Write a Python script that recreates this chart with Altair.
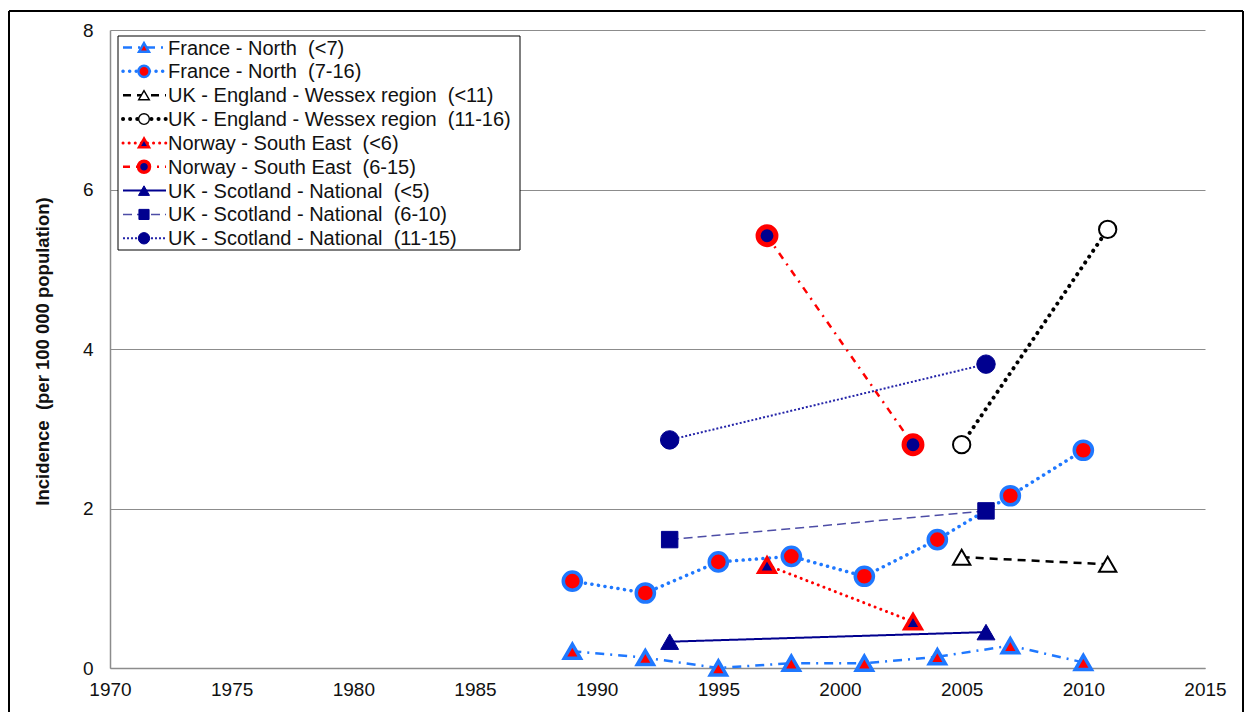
import altair as alt
import pandas as pd

# ---------------- data ----------------
NB = "\u00a0"  # keeps the double spaces of the original labels visible
series_names = [
    "France - North " + NB + "(<7)",
    "France - North " + NB + "(7-16)",
    "UK - England - Wessex region " + NB + "(<11)",
    "UK - England - Wessex region " + NB + "(11-16)",
    "Norway - South East " + NB + "(<6)",
    "Norway - South East " + NB + "(6-15)",
    "UK - Scotland - National " + NB + "(<5)",
    "UK - Scotland - National " + NB + "(6-10)",
    "UK - Scotland - National " + NB + "(11-15)",
]

years_france = [1989, 1992, 1995, 1998, 2001, 2004, 2007, 2010]
france_lt7 = [0.21, 0.13, 0.00, 0.06, 0.06, 0.14, 0.28, 0.07]
france_7_16 = [1.09, 0.94, 1.33, 1.40, 1.15, 1.61, 2.16, 2.73]

years_wessex = [2005, 2011]
wessex_lt11 = [1.39, 1.30]
wessex_11_16 = [2.80, 5.50]

years_norway = [1997, 2003]
norway_lt6 = [1.29, 0.58]
norway_6_15 = [5.42, 2.80]

years_scotland = [1993, 2006]
scotland_lt5 = [0.33, 0.45]
scotland_6_10 = [1.61, 1.97]
scotland_11_15 = [2.86, 3.81]

x_ticks = [1970, 1975, 1980, 1985, 1990, 1995, 2000, 2005, 2010, 2015]
y_ticks = [0, 2, 4, 6, 8]

series_data = [
    (years_france, france_lt7),
    (years_france, france_7_16),
    (years_wessex, wessex_lt11),
    (years_wessex, wessex_11_16),
    (years_norway, norway_lt6),
    (years_norway, norway_6_15),
    (years_scotland, scotland_lt5),
    (years_scotland, scotland_6_10),
    (years_scotland, scotland_11_15),
]

rows = []
for name, (yrs, vals) in zip(series_names, series_data):
    for yr, v in zip(yrs, vals):
        rows.append({"series": name, "year": yr, "value": v})
df = pd.DataFrame(rows)

# ---------------- styles ----------------
BLUE = "#1f78ff"
RED = "#ff0000"
NAVY = "#00008f"

styles = [
    dict(line=BLUE, dash=[9, 6, 2, 6], lw=2.5, cap="butt",
         shape="triangle-up", fill=RED, stroke=BLUE, sw=3.5, size=260),
    dict(line=BLUE, dash=[0.1, 6.5], lw=3.5, cap="round",
         shape="circle", fill=RED, stroke=BLUE, sw=3.5, size=330),
    dict(line="#000000", dash=[8, 6], lw=2.5, cap="butt",
         shape="triangle-up", fill="#ffffff", stroke="#000000", sw=2, size=300),
    dict(line="#000000", dash=[0.1, 7], lw=4, cap="round",
         shape="circle", fill="#ffffff", stroke="#000000", sw=2, size=300),
    dict(line=RED, dash=[0.1, 6], lw=3, cap="round",
         shape="triangle-up", fill=NAVY, stroke=RED, sw=3.5, size=270),
    dict(line=RED, dash=[7, 6, 2, 6], lw=2.5, cap="butt",
         shape="circle", fill=NAVY, stroke=RED, sw=5, size=320),
    dict(line=NAVY, dash=[1, 0], lw=2, cap="butt",
         shape="triangle-up", fill=NAVY, stroke=NAVY, sw=1, size=320),
    dict(line="#4d4da6", dash=[9, 5], lw=1.5, cap="butt",
         shape="square", fill=NAVY, stroke=NAVY, sw=1, size=270),
    dict(line="#2424a8", dash=[2, 2], lw=2, cap="butt",
         shape="circle", fill=NAVY, stroke=NAVY, sw=1, size=340),
]

FONT = "Liberation Sans"
TXT = "#111111"

x_enc = alt.X(
    "year:Q",
    scale=alt.Scale(domain=[1970, 2015], nice=False, zero=False),
    axis=alt.Axis(values=x_ticks, format="d", grid=False, ticks=False,
                  labelPadding=12, labelFlush=False, labelOverlap=False,
                  labelBound=False, title=None),
)
y_enc = alt.Y(
    "value:Q",
    scale=alt.Scale(domain=[0, 8], nice=False, zero=True),
    axis=alt.Axis(values=y_ticks, grid=True, ticks=False, labelPadding=17,
                  title="Incidence " + NB + "(per 100 000 population)",
                  titleX=-68, titleY=321, titleAngle=-90,
                  titleAlign="center", titleBaseline="middle"),
)

layers = []
for name, st in zip(series_names, styles):
    base = alt.Chart(df).transform_filter(alt.datum.series == name)
    line = base.mark_line(
        color=st["line"], strokeDash=st["dash"], strokeWidth=st["lw"],
        strokeCap=st["cap"], clip=False,
    ).encode(x=x_enc, y=y_enc)
    pts = base.mark_point(
        shape=st["shape"], filled=True, fill=st["fill"], stroke=st["stroke"],
        strokeWidth=st["sw"], size=st["size"], opacity=1, fillOpacity=1,
        strokeOpacity=1, clip=False,
    ).encode(x=x_enc, y=y_enc)
    layers += [line, pts]

# ---------------- legend (drawn as a box with samples) ----------------
LEG_X0, LEG_X1, LEG_Y0, LEG_Y1 = 8, 410, 6, 220
ROW0, ROW_STEP = 17.5, 23.85
leg_df = pd.DataFrame({"label": series_names, "row": list(range(len(series_names)))})

box = alt.Chart(leg_df.head(1)).mark_rect(
    fill="#ffffff", stroke="#000000", strokeWidth=1
).encode(x=alt.value(LEG_X0), x2=alt.value(LEG_X1),
         y=alt.value(LEG_Y0), y2=alt.value(LEG_Y1))
layers.append(box)

for i, (name, st) in enumerate(zip(series_names, styles)):
    yy = ROW0 + i * ROW_STEP
    one = alt.Chart(leg_df[leg_df["row"] == i])
    seg = one.mark_rule(
        color=st["line"], strokeDash=st["dash"], strokeWidth=st["lw"],
        strokeCap=st["cap"],
    ).encode(x=alt.value(13), x2=alt.value(56), y=alt.value(yy))
    mk = one.mark_point(
        shape=st["shape"], filled=True, fill=st["fill"], stroke=st["stroke"],
        strokeWidth=max(1, st["sw"] * 0.7), size=st["size"] * 0.38,
        opacity=1,
    ).encode(x=alt.value(34), y=alt.value(yy))
    txt = one.mark_text(
        align="left", baseline="middle", font=FONT, fontSize=20, color=TXT,
    ).encode(x=alt.value(58), y=alt.value(yy + 1), text="label:N")
    layers += [seg, mk, txt]

# ---------------- outer frame ----------------
frame_df = pd.DataFrame({"k": [0]})
fr = alt.Chart(frame_df)
frame = [
    fr.mark_rule(color="#000000", strokeWidth=2).encode(
        x=alt.value(-101), x2=alt.value(1133), y=alt.value(-19)),
    fr.mark_rule(color="#000000", strokeWidth=2).encode(
        x=alt.value(-101), y=alt.value(-19), y2=alt.value(720)),
    fr.mark_rule(color="#000000", strokeWidth=2).encode(
        x=alt.value(1133), y=alt.value(-19), y2=alt.value(720)),
]
layers += frame

chart = alt.layer(*layers).properties(
    width=1095, height=638,
    autosize=alt.AutoSizeParams(type="none"),
    padding={"left": 102, "top": 22, "right": 39, "bottom": 44},
    background="#ffffff",
).configure_view(stroke=None).configure_axis(
    labelFont=FONT, labelFontSize=19, labelColor=TXT,
    titleFont=FONT, titleFontSize=18.5, titleFontWeight="bold", titleColor=TXT,
    domainColor="#8c8c8c", domainWidth=1.5, gridColor="#8c8c8c", gridWidth=1,
)

chart.save("out.html", embed_options={"renderer": "svg", "actions": False})
